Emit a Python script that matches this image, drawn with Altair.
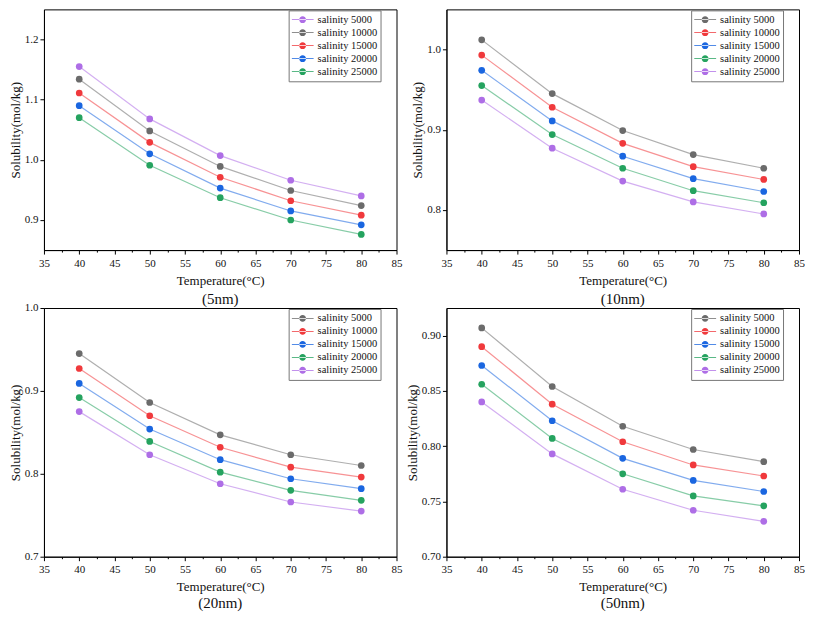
import altair as alt
import pandas as pd

FONT = "Liberation Serif"

temps = [40, 50, 60, 70, 80]
salinity_labels = ["salinity 5000", "salinity 10000", "salinity 15000",
                   "salinity 20000", "salinity 25000"]
line_keys = ["line 5000", "line 10000", "line 15000", "line 20000", "line 25000"]

# (5nm)
nm5_s5000 = [1.155, 1.068, 1.007, 0.966, 0.940]
nm5_s10000 = [1.134, 1.048, 0.989, 0.949, 0.924]
nm5_s15000 = [1.111, 1.029, 0.971, 0.932, 0.908]
nm5_s20000 = [1.090, 1.010, 0.953, 0.915, 0.892]
nm5_s25000 = [1.070, 0.991, 0.937, 0.900, 0.876]

# (10nm)
nm10_s5000 = [1.012, 0.945, 0.899, 0.869, 0.852]
nm10_s10000 = [0.993, 0.928, 0.883, 0.854, 0.838]
nm10_s15000 = [0.974, 0.911, 0.867, 0.839, 0.823]
nm10_s20000 = [0.955, 0.894, 0.852, 0.824, 0.809]
nm10_s25000 = [0.937, 0.877, 0.836, 0.810, 0.795]

# (20nm)
nm20_s5000 = [0.945, 0.886, 0.847, 0.823, 0.810]
nm20_s10000 = [0.927, 0.870, 0.832, 0.808, 0.796]
nm20_s15000 = [0.909, 0.854, 0.817, 0.794, 0.782]
nm20_s20000 = [0.892, 0.839, 0.802, 0.780, 0.768]
nm20_s25000 = [0.875, 0.823, 0.788, 0.766, 0.755]

# (50nm)
nm50_s5000 = [0.907, 0.854, 0.818, 0.797, 0.786]
nm50_s10000 = [0.890, 0.838, 0.804, 0.783, 0.773]
nm50_s15000 = [0.873, 0.823, 0.789, 0.769, 0.759]
nm50_s20000 = [0.856, 0.807, 0.775, 0.755, 0.746]
nm50_s25000 = [0.840, 0.793, 0.761, 0.742, 0.732]

GRAY, RED, BLUE, GREEN, PURPLE = "#6b6b6b", "#f0393c", "#1a66e0", "#25a35f", "#ae6ee6"
colors_5nm = [PURPLE, GRAY, RED, BLUE, GREEN]
colors_other = [GRAY, RED, BLUE, GREEN, PURPLE]

x_ticks = [35, 37.5, 40, 42.5, 45, 47.5, 50, 52.5, 55, 57.5, 60, 62.5,
           65, 67.5, 70, 72.5, 75, 77.5, 80, 82.5, 85]

LEG_SYMBOL = ("M-1,-0.035 L1,-0.035 L1,0.035 L-1,0.035 Z "
              "M-0.31,0 A0.31,0.31 0 1,0 0.31,0 A0.31,0.31 0 1,0 -0.31,0 Z")

W = 353


def panel(series, colors, ydomain, yvalues, yfmt, label, h, sub_offset):
    rows = []
    for name, key, vals in zip(salinity_labels, line_keys, series):
        for t, v in zip(temps, vals):
            rows.append({"Temperature": t, "Solubility": v,
                         "series": name, "line_series": key})
    df = pd.DataFrame(rows)

    x = alt.X("Temperature:Q",
              scale=alt.Scale(domain=[35, 85], nice=False, zero=False),
              axis=alt.Axis(title="Temperature(°C)", values=x_ticks,
                            labelExpr="datum.value % 5 === 0 ? datum.label : ''",
                            tickSize={"condition": {"test": "datum.value % 5 !== 0", "value": 2},
                                      "value": 4},
                            labelFlush=False, labelOverlap=False))
    y = alt.Y("Solubility:Q",
              scale=alt.Scale(domain=ydomain, nice=False, zero=False),
              axis=alt.Axis(title="Solubility(mol/kg)", values=yvalues, format=yfmt,
                            titlePadding=2, labelPadding=2))
    base = alt.Chart(df)
    lines = base.mark_line(strokeWidth=1.2, strokeOpacity=0.55).encode(
        x=x, y=y,
        stroke=alt.Stroke("line_series:N",
                          scale=alt.Scale(domain=line_keys, range=colors),
                          legend=None))
    points = base.mark_point(filled=True, size=45, opacity=1, shape="circle",
                             strokeWidth=0).encode(
        x=x, y=y,
        fill=alt.Fill("series:N",
                      scale=alt.Scale(domain=salinity_labels, range=colors),
                      legend=alt.Legend(title=None, orient="none",
                                        legendX=W - 108, legendY=1,
                                        symbolType=LEG_SYMBOL, symbolSize=484,
                                        symbolStrokeWidth=0, clipHeight=12.7,
                                        rowPadding=0, labelOffset=4, padding=3,
                                        fillColor="white", strokeColor="#777",
                                        labelFont=FONT, labelFontSize=10.5,
                                        labelColor="#111")))
    return alt.layer(lines, points).properties(
        width=W, height=h,
        title=alt.TitleParams(label, orient="bottom", fontSize=15, font=FONT,
                              offset=sub_offset, fontWeight="normal", color="#111"))


p1 = panel([nm5_s5000, nm5_s10000, nm5_s15000, nm5_s20000, nm5_s25000], colors_5nm,
           [0.85, 1.25], [0.9, 1.0, 1.1, 1.2], ".1f", "(5nm)", 241, 5)
p2 = panel([nm10_s5000, nm10_s10000, nm10_s15000, nm10_s20000, nm10_s25000], colors_other,
           [0.75, 1.05], [0.8, 0.9, 1.0], ".1f", "(10nm)", 241, 5)
p3 = panel([nm20_s5000, nm20_s10000, nm20_s15000, nm20_s20000, nm20_s25000], colors_other,
           [0.7, 1.0], [0.7, 0.8, 0.9, 1.0], ".1f", "(20nm)", 249, 2)
p4 = panel([nm50_s5000, nm50_s10000, nm50_s15000, nm50_s20000, nm50_s25000], colors_other,
           [0.70, 0.925], [0.70, 0.75, 0.80, 0.85, 0.90], ".2f", "(50nm)", 249, 2)

chart = alt.concat(p1, p2, p3, p4, columns=2,
                   spacing={"row": 58, "column": 50},
                   bounds="flush", align="each").resolve_scale(
    x="independent", y="independent", stroke="independent", fill="independent"
).resolve_legend(fill="independent").configure_view(
    stroke="black", strokeWidth=1
).configure_axis(
    domainColor="black", tickColor="black", labelFont=FONT, titleFont=FONT,
    labelFontSize=11, titleFontSize=13, titleFontWeight="normal",
    labelColor="#111", titleColor="#111", grid=False, tickSize=4,
    labelPadding=3, titlePadding=6, domainWidth=1, tickWidth=1
).properties(padding=0, background="white")

chart.save("out.html", embed_options={"renderer": "svg", "actions": False})
